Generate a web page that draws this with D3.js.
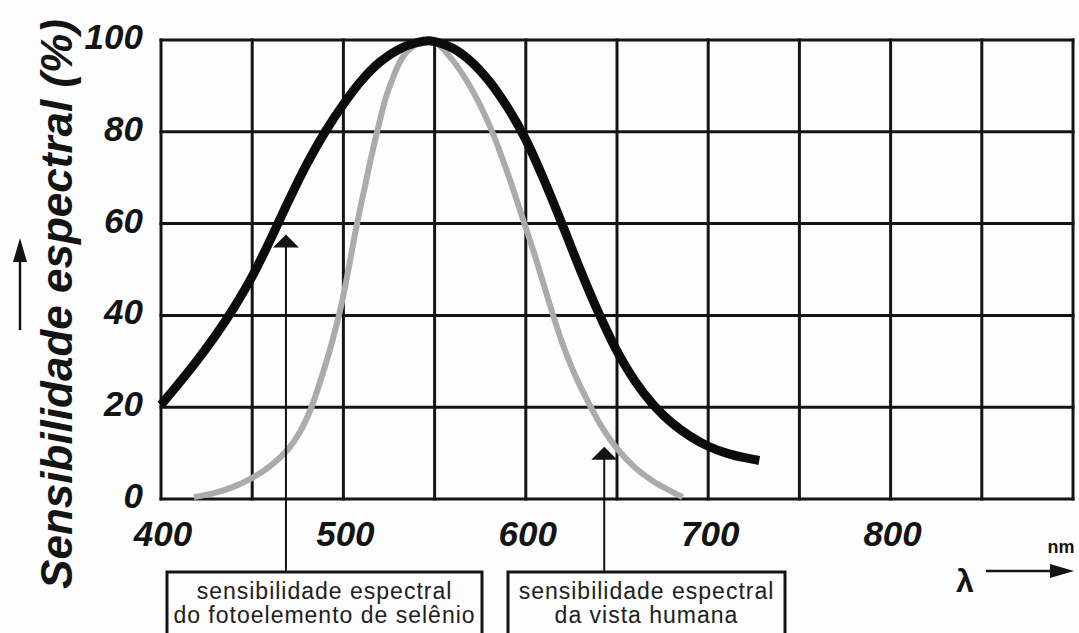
<!DOCTYPE html>
<html>
<head>
<meta charset="utf-8">
<script src="https://cdn.jsdelivr.net/npm/d3@7"></script>
<style>
  html, body { margin: 0; padding: 0; background: #fdfdfd; }
  svg { display: block; }
</style>
</head>
<body>
<svg id="chart" width="1079" height="633"></svg>
<script>
// Spectral sensitivity (%) against wavelength (nm)
const wavelengthTicks = [400, 500, 600, 700, 800];
const sensitivityTicks = [0, 20, 40, 60, 80, 100];

// Selenium photocell
const seleniumNm  = [400, 410, 420, 430, 440, 450, 460, 470, 480, 490, 500, 510, 520, 530, 540, 548, 560, 570, 580, 590, 600, 610, 620, 630, 640, 650, 660, 670, 680, 690, 700, 710, 720, 728];
const seleniumPct = [20.5, 25.3, 30.3, 35.7, 41.7, 48.5, 56.5, 65, 73, 80, 86, 91.2, 95.2, 97.9, 99.4, 99.8, 98.2, 95.3, 91, 85.3, 78.3, 69.5, 59.8, 49.8, 40.5, 32.2, 25.6, 20.5, 16.6, 13.7, 11.5, 10, 9, 8.4];

// Human eye
const eyeNm  = [418, 430, 440, 450, 460, 470, 476, 482, 488, 494, 499, 503, 507, 512, 518.5, 525, 535, 548, 560, 570, 580, 590, 598, 605, 610, 615, 620, 627, 635, 642, 650, 660, 670, 680, 686];
const eyePct = [0.4, 1.4, 2.7, 4.6, 7.2, 11, 14.5, 19.5, 26.5, 34.5, 42.5, 50.5, 59, 68.5, 80, 89.5, 97.5, 100, 95.5, 89.5, 81.5, 71, 61.5, 53, 46.5, 40, 34, 27, 20.5, 15.5, 11, 6.8, 3.8, 1.6, 0.4];

// Callouts: anchor point (nm, %) and the two label lines
const calloutSelenium = { nm: 468.5, pct: 57.6, lines: ["sensibilidade espectral", "do fotoelemento de selênio"] };
const calloutEye      = { nm: 643,   pct: 11.4, lines: ["sensibilidade espectral", "da vista humana"] };

const svg = d3.select("#chart");

const x = d3.scaleLinear().domain([400, 900]).range([161, 1073]);
const y = d3.scaleLinear().domain([0, 100]).range([499, 40]);

const ink = "#141414";

// Grid: every 50 nm and every 20 %
const gridX = d3.range(400, 901, 50);
const gridY = d3.range(0, 101, 20);
const grid = svg.append("g").attr("stroke", ink).attr("stroke-width", 3);
grid.selectAll("line.v").data(gridX).join("line")
  .attr("class", "v")
  .attr("x1", d => x(d)).attr("x2", d => x(d))
  .attr("y1", y(100) - 1.5).attr("y2", y(0) + 1.5);
grid.selectAll("line.h").data(gridY).join("line")
  .attr("class", "h")
  .attr("x1", x(400) - 1.5).attr("x2", x(900) + 1.5)
  .attr("y1", d => y(d)).attr("y2", d => y(d));

// Tick labels
const tickFont = "'Liberation Sans', Arial, sans-serif";
svg.append("g").selectAll("text").data(wavelengthTicks).join("text")
  .attr("x", d => x(d) + 2)
  .attr("y", 546)
  .attr("text-anchor", "middle")
  .attr("font-family", tickFont).attr("font-weight", "bold").attr("font-style", "italic")
  .attr("font-size", 35).attr("fill", ink)
  .text(d => d);

svg.append("g").selectAll("text").data(sensitivityTicks).join("text")
  .attr("x", 143)
  .attr("y", d => y(d) + 9)
  .attr("text-anchor", "end")
  .attr("font-family", tickFont).attr("font-weight", "bold").attr("font-style", "italic")
  .attr("font-size", 35).attr("fill", ink)
  .text(d => d);

// Y-axis title with an upward arrow
svg.append("text")
  .attr("transform", "translate(72,304) rotate(-90)")
  .attr("text-anchor", "middle")
  .attr("font-family", tickFont).attr("font-weight", "bold").attr("font-style", "italic")
  .attr("font-size", 44).attr("fill", ink)
  .text("Sensibilidade espectral (%)");

svg.append("line")
  .attr("x1", 20).attr("x2", 20).attr("y1", 330).attr("y2", 258)
  .attr("stroke", ink).attr("stroke-width", 2.5);
svg.append("path")
  .attr("d", "M20,238 L13,262 L27,262 Z")
  .attr("fill", ink);

// Wavelength symbol and unit with a rightward arrow
svg.append("text")
  .attr("x", 965).attr("y", 592)
  .attr("text-anchor", "middle")
  .attr("font-family", tickFont).attr("font-weight", "bold")
  .attr("font-size", 32).attr("fill", ink)
  .text("λ");
svg.append("line")
  .attr("x1", 986).attr("x2", 1052).attr("y1", 571).attr("y2", 571)
  .attr("stroke", ink).attr("stroke-width", 2.5);
svg.append("path")
  .attr("d", "M1074,571 L1050,564 L1050,578 Z")
  .attr("fill", ink);
svg.append("text")
  .attr("x", 1061).attr("y", 553)
  .attr("text-anchor", "middle")
  .attr("font-family", tickFont).attr("font-weight", "bold")
  .attr("font-size", 18).attr("fill", ink)
  .text("nm");

// Curves
const line = d3.line()
  .x(d => x(d[0]))
  .y(d => y(d[1]))
  .curve(d3.curveCatmullRom.alpha(0.5));

svg.append("path")
  .datum(d3.zip(eyeNm, eyePct))
  .attr("d", line)
  .attr("fill", "none")
  .attr("stroke", "#ababab")
  .attr("stroke-width", 6);

svg.append("path")
  .datum(d3.zip(seleniumNm, seleniumPct))
  .attr("d", line)
  .attr("fill", "none")
  .attr("stroke", "#0c0c0c")
  .attr("stroke-width", 9);

// Callout boxes with leader arrows
function callout(c, boxLeft, boxRight) {
  const g = svg.append("g");
  const ax = x(c.nm), ay = y(c.pct);
  const boxTop = 572;
  g.append("line")
    .attr("x1", ax).attr("x2", ax).attr("y1", ay + 10).attr("y2", boxTop)
    .attr("stroke", ink).attr("stroke-width", 2);
  g.append("path")
    .attr("d", `M${ax},${ay} L${ax - 13},${ay + 13} L${ax + 13},${ay + 13} Z`)
    .attr("fill", ink);
  g.append("rect")
    .attr("x", boxLeft).attr("y", boxTop)
    .attr("width", boxRight - boxLeft).attr("height", 80)
    .attr("fill", "#fdfdfd")
    .attr("stroke", ink).attr("stroke-width", 3);
  const cx = (boxLeft + boxRight) / 2;
  g.selectAll("text").data(c.lines).join("text")
    .attr("x", cx)
    .attr("y", (d, i) => 599 + i * 24)
    .attr("text-anchor", "middle")
    .attr("font-family", tickFont)
    .attr("font-size", 23)
    .attr("letter-spacing", 1)
    .attr("fill", "#202020")
    .text(d => d);
}
callout(calloutSelenium, 167, 482);
callout(calloutEye, 508, 785);
</script>
</body>
</html>
